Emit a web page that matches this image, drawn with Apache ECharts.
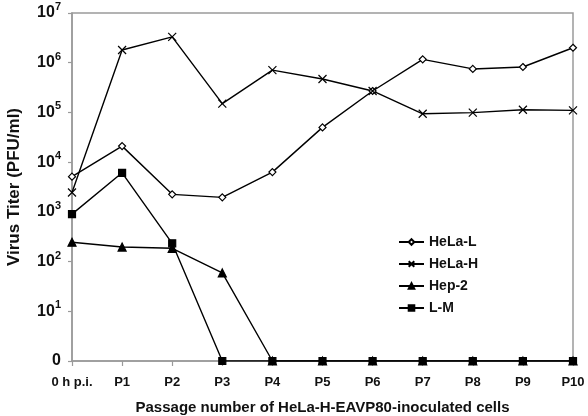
<!DOCTYPE html>
<html>
<head>
<meta charset="utf-8">
<script src="https://cdn.jsdelivr.net/npm/echarts@6/dist/echarts.min.js"></script>
<style>html,body{margin:0;padding:0;background:#fff;}#c{width:588px;height:416px;}</style>
</head>
<body>
<div id="c"></div>
<script>
// Categories
var categories = ['0 h p.i.', 'P1', 'P2', 'P3', 'P4', 'P5', 'P6', 'P7', 'P8', 'P9', 'P10'];
// Values (PFU/ml); a titer of 0 is drawn at the "0" gridline (value 1 on the log axis)
var helaL = [5100, 21000, 2250, 1960, 6300, 50000, 270000, 1170000, 750000, 820000, 2000000];
var helaH = [2450, 1800000, 3300000, 150000, 710000, 470000, 270000, 94000, 99000, 113000, 110000];
var hep2  = [245, 196, 185, 59, 1, 1, 1, 1, 1, 1, 1];
var lm    = [900, 6100, 233, 1, 1, 1, 1, 1, 1, 1, 1];
var seriesNames = ['HeLa-L', 'HeLa-H', 'Hep-2', 'L-M'];
var yTickExponents = [0, 1, 2, 3, 4, 5, 6, 7];

var FONT = 'Liberation Sans, Arial, sans-serif';
var chart = echarts.init(document.getElementById('c'), null, {renderer: 'canvas'});
var xPath = 'path://M0,0L10,10M10,0L0,10';

function mkSeries(name, data, symbol, size, fill) {
  return {
    name: name, type: 'line', data: data,
    symbol: symbol, symbolSize: size, showAllSymbol: true,
    lineStyle: {color: '#000', width: 1.4},
    itemStyle: {color: fill, borderColor: '#000', borderWidth: 1.2},
    emphasis: {disabled: true},
    animation: false
  };
}

chart.setOption({
  backgroundColor: '#fff',
  animation: false,
  grid: {left: 72, right: 15, top: 13, bottom: 55, containLabel: false, outerBoundsMode: 'none',
         show: true, borderColor: '#9a9a9a', borderWidth: 1.5},
  legend: {
    orient: 'vertical', left: 393, top: 230, itemGap: 8, itemWidth: 25, itemHeight: 7,
    textStyle: {fontFamily: FONT, fontWeight: 'bold', fontSize: 14, color: '#111'},
    data: seriesNames
  },
  xAxis: {
    type: 'category', data: categories, boundaryGap: false,
    axisLine: {lineStyle: {color: '#9a9a9a', width: 1.5}},
    axisTick: {show: true, interval: 0, length: 5, lineStyle: {color: '#9a9a9a', width: 1.2}},
    axisLabel: {interval: 0, margin: 15, fontFamily: FONT, fontWeight: 'bold', fontSize: 13, color: '#111'},
    name: 'Passage number of HeLa-H-EAVP80-inoculated cells',
    nameLocation: 'middle', nameGap: 39,
    nameTextStyle: {fontFamily: FONT, fontWeight: 'bold', fontSize: 15, color: '#111'}
  },
  yAxis: {
    type: 'log', logBase: 10, min: 1, max: 1e7,
    splitLine: {show: false},
    axisLine: {show: true, lineStyle: {color: '#9a9a9a', width: 1.5}},
    axisTick: {show: true, length: 4, lineStyle: {color: '#9a9a9a', width: 1.2}},
    axisLabel: {
      margin: 11, fontFamily: FONT, fontWeight: 'bold', fontSize: 16, color: '#111',
      formatter: function (v) {
        var e = Math.round(Math.log10(v));
        if (yTickExponents.indexOf(e) < 0) return '';
        if (e === 0) return '{b|0}';
        return '{b|10}{s|' + e + '}';
      },
      rich: {
        b: {fontFamily: FONT, fontWeight: 'bold', fontSize: 16, color: '#111', lineHeight: 18},
        s: {fontFamily: FONT, fontWeight: 'bold', fontSize: 11, color: '#111', padding: [0, 0, 12, 0], lineHeight: 18}
      }
    },
    name: 'Virus Titer (PFU/ml)',
    nameLocation: 'middle', nameGap: 49, nameRotate: 90,
    nameTextStyle: {fontFamily: FONT, fontWeight: 'bold', fontSize: 17, color: '#111'}
  },
  series: [
    mkSeries('HeLa-L', helaL, 'diamond', 7, '#fff'),
    mkSeries('HeLa-H', helaH, xPath, 8, '#000'),
    mkSeries('Hep-2', hep2, 'triangle', 8, '#000'),
    mkSeries('L-M', lm, 'rect', 7, '#000')
  ]
});
</script>
</body>
</html>
